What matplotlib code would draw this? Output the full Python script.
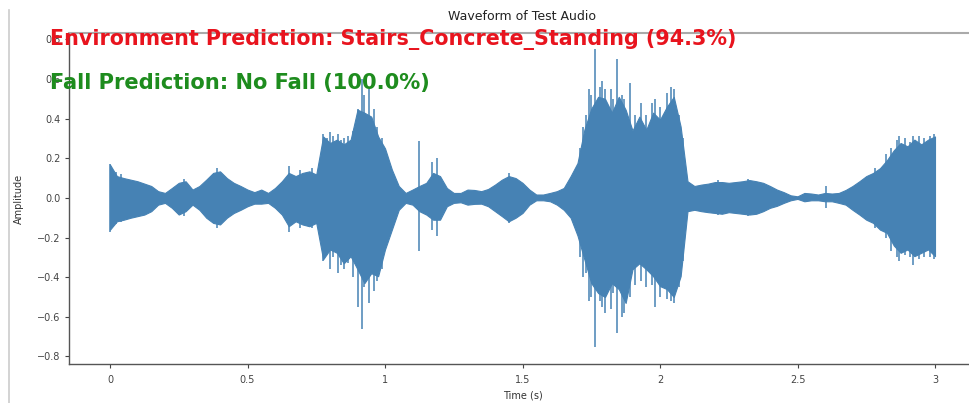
import numpy as np
import matplotlib
matplotlib.use("Agg")
import matplotlib.pyplot as plt
from matplotlib.lines import Line2D

# envelope of the waveform, read every 0.025 s from 0 to 3 s
upper = [0.168, 0.11, 0.10, 0.092, 0.084, 0.072, 0.06, 0.034, 0.025, 0.05,
         0.076, 0.084, 0.042, 0.06, 0.092, 0.126, 0.134, 0.10, 0.076, 0.06,
         0.042, 0.029, 0.042, 0.025, 0.05, 0.084, 0.126, 0.11, 0.126, 0.134,
         0.118, 0.31, 0.277, 0.294, 0.27, 0.294, 0.445, 0.43, 0.41, 0.31,
         0.25, 0.143, 0.06, 0.025, 0.042, 0.06, 0.076, 0.126, 0.11, 0.05,
         0.025, 0.025, 0.042, 0.04, 0.034, 0.045, 0.067, 0.092, 0.11, 0.10,
         0.076, 0.042, 0.017, 0.017, 0.025, 0.034, 0.05, 0.11, 0.176, 0.344,
         0.45, 0.51, 0.50, 0.43, 0.51, 0.445, 0.34, 0.41, 0.344, 0.43,
         0.395, 0.46, 0.51, 0.36, 0.084, 0.06, 0.067, 0.072, 0.08, 0.08,
         0.076, 0.08, 0.084, 0.09, 0.084, 0.076, 0.06, 0.042, 0.029, 0.013,
         0.008, 0.025, 0.022, 0.017, 0.025, 0.022, 0.025, 0.04, 0.06, 0.084,
         0.11, 0.126, 0.15, 0.19, 0.24, 0.277, 0.26, 0.294, 0.27, 0.294,
         0.31]
lower = [-0.16, -0.118, -0.11, -0.10, -0.092, -0.084, -0.067, -0.034, -0.025, -0.05,
         -0.084, -0.067, -0.034, -0.06, -0.10, -0.126, -0.134, -0.10, -0.076, -0.06,
         -0.042, -0.029, -0.029, -0.025, -0.05, -0.084, -0.143, -0.118, -0.134, -0.143,
         -0.126, -0.31, -0.26, -0.277, -0.33, -0.294, -0.36, -0.43, -0.38, -0.395,
         -0.26, -0.16, -0.06, -0.025, -0.034, -0.067, -0.084, -0.11, -0.11, -0.042,
         -0.025, -0.022, -0.034, -0.03, -0.029, -0.042, -0.067, -0.092, -0.118, -0.10,
         -0.076, -0.034, -0.012, -0.012, -0.017, -0.034, -0.06, -0.10, -0.19, -0.31,
         -0.43, -0.48, -0.50, -0.43, -0.46, -0.53, -0.36, -0.33, -0.36, -0.395,
         -0.445, -0.46, -0.50, -0.395, -0.067, -0.06, -0.067, -0.072, -0.076, -0.08,
         -0.072, -0.076, -0.08, -0.084, -0.08, -0.067, -0.05, -0.04, -0.025, -0.012,
         -0.005, -0.017, -0.012, -0.012, -0.017, -0.017, -0.025, -0.034, -0.06, -0.084,
         -0.11, -0.126, -0.16, -0.176, -0.24, -0.277, -0.26, -0.294, -0.277, -0.26,
         -0.294]

# single sharp peaks sticking out of the envelope
spike_t = [0.0, 0.02, 0.04, 0.27, 0.39, 0.65, 0.69, 0.735,
           0.775, 0.79, 0.80, 0.81, 0.83, 0.84, 0.85, 0.865, 0.885, 0.903, 0.915,
           0.925, 0.94, 0.96, 0.97, 0.99,
           1.125, 1.17, 1.19, 1.45,
           1.71, 1.72, 1.73, 1.74, 1.75, 1.764, 1.78, 1.79, 1.80, 1.82, 1.83,
           1.845, 1.86, 1.87, 1.89, 1.91, 1.93, 1.95, 1.97, 1.98, 2.00, 2.025,
           2.04, 2.05, 2.07, 2.085,
           2.21, 2.32, 2.605,
           2.78, 2.82, 2.84, 2.86, 2.87, 2.89, 2.91, 2.92, 2.94, 2.96, 2.98, 2.995]
spike_hi = [0.17, 0.13, 0.12, 0.095, 0.15, 0.16, 0.14, 0.15,
            0.32, 0.30, 0.33, 0.31, 0.32, 0.29, 0.30, 0.31, 0.34, 0.45, 0.60,
            0.52, 0.55, 0.45, 0.36, 0.30,
            0.286, 0.18, 0.20, 0.125,
            0.25, 0.36, 0.42, 0.55, 0.52, 0.75, 0.56, 0.59, 0.55, 0.55, 0.50,
            0.70, 0.52, 0.50, 0.58, 0.42, 0.48, 0.42, 0.48, 0.50, 0.46, 0.53,
            0.56, 0.55, 0.42, 0.30,
            0.09, 0.095, 0.06,
            0.15, 0.22, 0.25, 0.29, 0.31, 0.30, 0.28, 0.31, 0.31, 0.30, 0.31, 0.32]
spike_lo = [-0.17, -0.13, -0.12, -0.09, -0.15, -0.17, -0.15, -0.15,
            -0.32, -0.28, -0.36, -0.30, -0.38, -0.34, -0.36, -0.33, -0.40, -0.55, -0.66,
            -0.45, -0.53, -0.47, -0.42, -0.36,
            -0.27, -0.16, -0.19, -0.125,
            -0.30, -0.40, -0.38, -0.52, -0.50, -0.75, -0.52, -0.55, -0.58, -0.56, -0.48,
            -0.68, -0.60, -0.58, -0.50, -0.44, -0.42, -0.45, -0.44, -0.55, -0.50, -0.51,
            -0.52, -0.53, -0.45, -0.32,
            -0.085, -0.09, -0.05,
            -0.15, -0.20, -0.27, -0.30, -0.32, -0.29, -0.30, -0.34, -0.31, -0.30, -0.30, -0.31]

env_text = "Environment Prediction: Stairs_Concrete_Standing (94.3%)"
fall_text = "Fall Prediction: No Fall (100.0%)"

W, H = 969, 403
fig = plt.figure(figsize=(W / 100, H / 100), dpi=100)
ax = fig.add_axes([68.75 / W, 39 / H, 907.5 / W, 331 / H])

t = np.linspace(0, 3, len(upper))
wave_col = "steelblue"
ax.fill_between(t, lower, upper, color=wave_col, linewidth=0.8, edgecolor=wave_col)
ax.vlines(spike_t, spike_lo, spike_hi, color=wave_col, linewidth=1.1)

ax.set_xlim(-0.15, 3.15)
ax.set_ylim(-0.838, 0.832)
ax.set_xticks([0, 0.5, 1, 1.5, 2, 2.5, 3])
ax.set_xticklabels(["0", "0.5", "1", "1.5", "2", "2.5", "3"])
ax.set_yticks([-0.8, -0.6, -0.4, -0.2, 0.0, 0.2, 0.4, 0.6, 0.8])
ax.tick_params(labelsize=7, length=3, width=0.8, colors="#444444", pad=3)
ax.tick_params(axis="x", pad=5)
ax.set_title("Waveform of Test Audio", fontsize=9, color="#222222", pad=9)
ax.set_xlabel("Time (s)", fontsize=7, color="#333333", labelpad=4)
ax.set_ylabel("Amplitude", fontsize=7, color="#333333", labelpad=9)
for side in ["left", "bottom"]:
    ax.spines[side].set_color("#555555")
    ax.spines[side].set_linewidth(1.0)
ax.spines["top"].set_color("#aaaaaa")
ax.spines["top"].set_linewidth(1.5)
ax.spines["right"].set_visible(False)

# screenshot border on the left
fig.add_artist(Line2D([8.5 / W, 8.5 / W], [0, 1 - 10 / H], color="#cccccc", linewidth=1.2))

# overlay texts, sized to the width they take in the picture
renderer = fig.canvas.get_renderer()
for txt, col, base_y, width in [(env_text, "#e8141e", 45, 687), (fall_text, "#1e8c1e", 89, 382)]:
    tx = fig.text(50 / W, 1 - base_y / H, txt, color=col, fontsize=14, fontweight="bold",
                  va="baseline", ha="left", zorder=10)
    w = tx.get_window_extent(renderer).width
    tx.set_fontsize(14 * width / w)

fig.savefig("out.png", dpi=100)
